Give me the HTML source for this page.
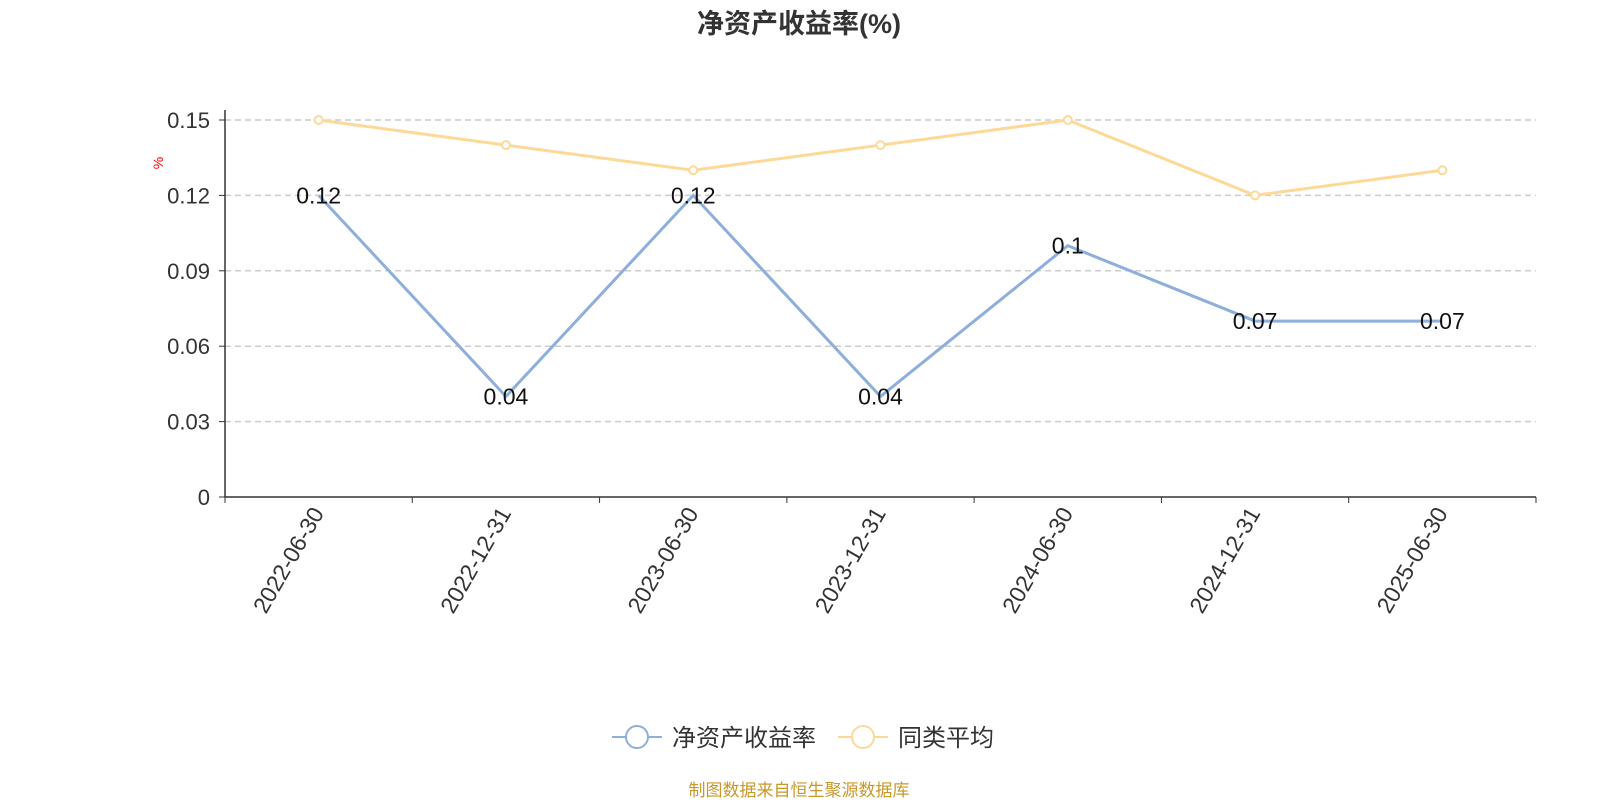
<!DOCTYPE html>
<html><head><meta charset="utf-8"><style>
body{margin:0;background:#fff;width:1600px;height:800px;overflow:hidden;font-family:"Liberation Sans","Noto Sans CJK SC",sans-serif;}
</style></head><body>
<svg id="c" width="1600" height="800" xmlns="http://www.w3.org/2000/svg" font-family="Liberation Sans, Noto Sans CJK SC, sans-serif">
<text x="799" y="33" text-anchor="middle" font-size="27" font-weight="bold" fill="#333">净资产收益率(%)</text>
<text x="163" y="163" font-size="14" fill="red" transform="rotate(-90 163 163)" text-anchor="middle">%</text>
<g id="grid"></g><g id="axes"></g><g id="series"></g>
<g>
<g>
<line x1="612" y1="737" x2="662" y2="737" stroke="#8eaedb" stroke-width="2"/>
<circle cx="637" cy="737" r="11" fill="#fff" stroke="#8eaedb" stroke-width="2"/>
<text x="672" y="746" font-size="24" fill="#333">净资产收益率</text></g>
<g>
<line x1="838" y1="737" x2="888" y2="737" stroke="#fdd998" stroke-width="2"/>
<circle cx="863" cy="737" r="11" fill="#fff" stroke="#fdd998" stroke-width="2"/>
<text x="898" y="746" font-size="24" fill="#333">同类平均</text></g>
</g>
<text x="799" y="796" text-anchor="middle" font-size="17" fill="#c8982a">制图数据来自恒生聚源数据库</text>
</svg>
<script>
const categories=["2022-06-30","2022-12-31","2023-06-30","2023-12-31","2024-06-30","2024-12-31","2025-06-30"];
const roeValues=[0.12,0.04,0.12,0.04,0.1,0.07,0.07];
const avgValues=[0.15,0.14,0.13,0.14,0.15,0.12,0.13];
const yTicks=[0,0.03,0.06,0.09,0.12,0.15];
const yTickLabels=["0","0.03","0.06","0.09","0.12","0.15"];
const NS="http://www.w3.org/2000/svg";
const x0=225,x1=1536,y0=497,yTop=120,yMax=0.15;
const bw=(x1-x0)/categories.length;
const X=i=>x0+bw*(i+0.5);
const Y=v=>y0-(v/yMax)*(y0-yTop);
function mk(t,a,p){const e=document.createElementNS(NS,t);for(const k in a)e.setAttribute(k,a[k]);p.appendChild(e);return e;}
const grid=document.getElementById('grid'),axes=document.getElementById('axes'),ser=document.getElementById('series');
yTicks.forEach((v,i)=>{
 if(v>0){const g=mk('line',{x1:x0,x2:x1,y1:Y(v),y2:Y(v),stroke:'#ccc','stroke-dasharray':'6,4','stroke-width':1.5},grid);
 
 }
 const tk=mk('line',{x1:x0-6,x2:x0,y1:Y(v),y2:Y(v),stroke:'#333'},axes);
 
 
 const t=mk('text',{x:x0-15,y:Y(v)+8,'text-anchor':'end','font-size':22,fill:'#333'},axes);
 t.textContent=yTickLabels[i];
 
 
});
const ya=mk('line',{x1:x0,x2:x0,y1:yTop-10,y2:y0,stroke:'#333','stroke-width':1.5},axes);


const xa=mk('line',{x1:x0,x2:x1,y1:y0,y2:y0,stroke:'#333','stroke-width':1.5},axes);


for(let i=0;i<=categories.length;i++){
 const tk=mk('line',{x1:x0+bw*i,x2:x0+bw*i,y1:y0,y2:y0+6,stroke:'#333'},axes);
 
 
}
categories.forEach((c,i)=>{
 const x=X(i)+6,y=y0+16;
 const t=mk('text',{x:x,y:y,'text-anchor':'end','font-size':23,fill:'#333',transform:`rotate(-60 ${x} ${y})`},axes);
 t.textContent=c;
 
 
});
function series(vals,color,name,labels){
 const p=mk('polyline',{points:vals.map((v,i)=>X(i)+','+Y(v)).join(' '),fill:'none',stroke:color,'stroke-width':3},ser);
 
 
 vals.forEach((v,i)=>{
  if(!labels){const c=mk('circle',{cx:X(i),cy:Y(v),r:4,fill:'#fff',stroke:color,'stroke-width':2},ser);
  
  }
  else{const t=mk('text',{x:X(i),y:Y(v)+8,'text-anchor':'middle','font-size':23,fill:'#111'},ser);
  t.textContent=String(v);
  
  }
 });
}
series(avgValues,'#fdd998','average',false);
series(roeValues,'#8eaedb','roe',true);
</script>
</body></html>
